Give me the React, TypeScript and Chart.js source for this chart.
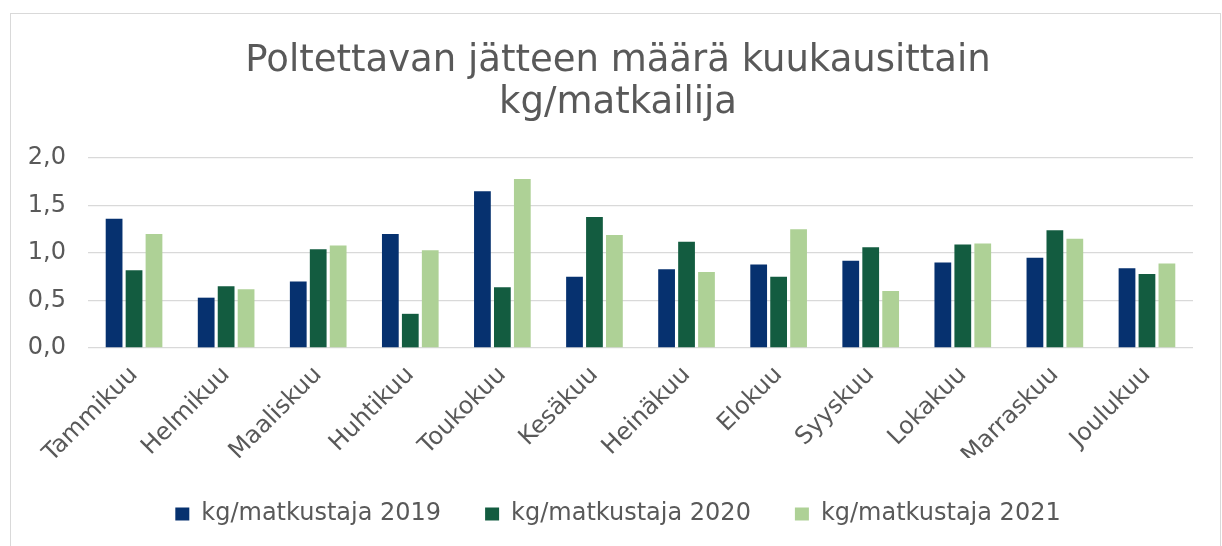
import React, { useEffect, useRef } from "react";
import { Chart, registerables } from "chart.js";

Chart.register(...registerables);

const months = [
  "Tammikuu", "Helmikuu", "Maaliskuu", "Huhtikuu", "Toukokuu", "Kesäkuu",
  "Heinäkuu", "Elokuu", "Syyskuu", "Lokakuu", "Marraskuu", "Joulukuu",
];
const values2019 = [1.36, 0.53, 0.70, 1.20, 1.65, 0.75, 0.83, 0.88, 0.92, 0.90, 0.95, 0.84];
const values2020 = [0.82, 0.65, 1.04, 0.36, 0.64, 1.38, 1.12, 0.75, 1.06, 1.09, 1.24, 0.78];
const values2021 = [1.20, 0.62, 1.08, 1.03, 1.78, 1.19, 0.80, 1.25, 0.60, 1.10, 1.15, 0.89];
const seriesNames = ["kg/matkustaja 2019", "kg/matkustaja 2020", "kg/matkustaja 2021"];
const titleLines = ["Poltettavan jätteen määrä kuukausittain", "kg/matkailija"];
const yTicks = [0, 0.5, 1.0, 1.5, 2.0];

const FONT = "'DejaVu Sans', Verdana, sans-serif";
const TEXT = "#595959";
const GRID = "#d9d9d9";

export default function App() {
  const ref = useRef<HTMLCanvasElement>(null);

  useEffect(() => {
    if (!ref.current) return;
    const common = { barPercentage: 0.84, categoryPercentage: 0.65 };
    const chart = new Chart(ref.current, {
      type: "bar",
      data: {
        labels: months,
        datasets: [
          { label: seriesNames[0], data: values2019, backgroundColor: "#06316F", ...common },
          { label: seriesNames[1], data: values2020, backgroundColor: "#135C40", ...common },
          { label: seriesNames[2], data: values2021, backgroundColor: "#AED196", ...common },
        ],
      },
      options: {
        responsive: false,
        animation: false,
        layout: { padding: { left: 5, right: 0, top: 0, bottom: 10 } },
        plugins: {
          tooltip: { enabled: false },
          title: {
            display: true,
            text: titleLines,
            color: TEXT,
            font: { family: FONT, size: 37, weight: "normal", lineHeight: 1.15 },
            padding: { top: 26, bottom: 33 },
          },
          legend: {
            position: "bottom",
            labels: {
              color: TEXT,
              font: { family: FONT, size: 24 },
              boxWidth: 14,
              boxHeight: 13,
              padding: 44,
            },
          },
        },
        scales: {
          x: {
            grid: { display: false, drawTicks: false },
            border: { display: false },
            ticks: {
              color: TEXT,
              font: { family: FONT, size: 24 },
              minRotation: 45,
              maxRotation: 45,
              autoSkip: false,
              padding: 13,
            },
            afterFit: (s: any) => { s.height = 110; },
          },
          y: {
            min: 0,
            max: 2,
            grid: { color: GRID, lineWidth: 1.3, drawTicks: false },
            border: { display: false },
            afterBuildTicks: (s: any) => { s.ticks = yTicks.map((v) => ({ value: v })); },
            ticks: {
              color: TEXT,
              font: { family: FONT, size: 24 },
              padding: 22,
              callback: (v: any) => Number(v).toFixed(1).replace(".", ","),
            },
            afterFit: (s: any) => { s.width = 72; },
          },
          y2: {
            position: "right",
            display: true,
            grid: { display: false, drawTicks: false },
            border: { display: false },
            ticks: { display: false },
            afterFit: (s: any) => { s.width = 27; },
          },
        },
      },
    });
    return () => chart.destroy();
  }, []);

  return (
    <div style={{ position: "fixed", left: 0, top: 0, width: 1222, height: 546, overflow: "hidden", background: "#fff" }}>
      <div
        style={{
          position: "absolute",
          left: 10,
          top: 13,
          width: 1211,
          height: 600,
          boxSizing: "border-box",
          borderLeft: "1px solid #d9d9d9",
          borderTop: "1px solid #d9d9d9",
          borderRight: "1px solid #d9d9d9",
        }}
      >
        <canvas ref={ref} width={1209} height={532} style={{ display: "block", width: 1209, height: 532 }} />
      </div>
    </div>
  );
}
